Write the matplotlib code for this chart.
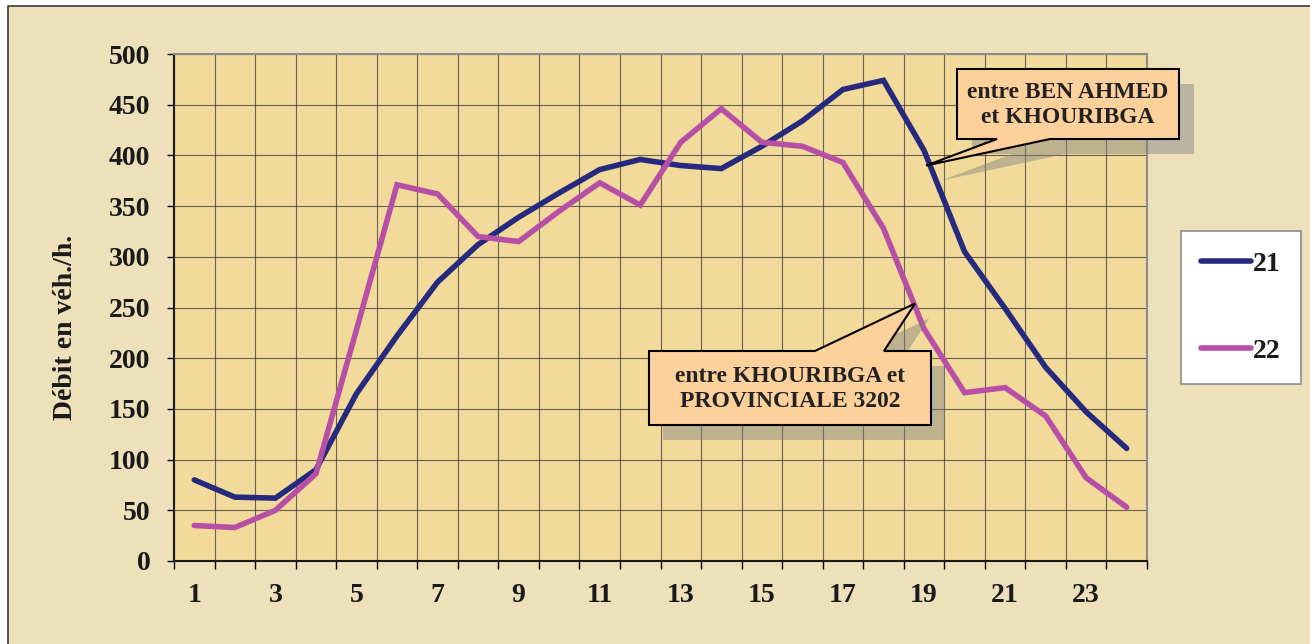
"""Hourly traffic flow, two road sections"""
import numpy as np
import matplotlib.pyplot as plt
from matplotlib.patches import Polygon, Rectangle
from matplotlib.lines import Line2D
from matplotlib.transforms import IdentityTransform

hours = list(range(1, 25))
flow_21 = [80, 63, 62, 90, 165, 222, 275, 312, 339, 363, 386, 396,
           390, 387, 409, 434, 465, 474, 405, 305, 249, 191, 147, 111]
flow_22 = [35, 33, 50, 86, 228, 371, 362, 320, 315, 345, 373, 351,
           413, 446, 413, 409, 393, 328, 229, 166, 171, 143, 82, 53]
series_names = ['21', '22']
callout_texts = ['entre BEN AHMED\net KHOURIBGA',
                 'entre KHOURIBGA et\nPROVINCIALE 3202']

W, H = 1310, 644
plt.rcParams['font.family'] = ['Liberation Serif', 'DejaVu Serif']
plt.rcParams['font.weight'] = 'bold'

fig = plt.figure(figsize=(W / 100, H / 100), dpi=100)
fig.patch.set_facecolor('#efe0bc')


def px(x, y):
    """pixel coords (top-left origin) -> display coords"""
    return (x, H - y)


ax = fig.add_axes([174 / W, (H - 561) / H, 973 / W, 507 / H])
ax.set_facecolor('#f2da9b')

navy = '#262a7e'
pink = '#b84fa6'
l1, = ax.plot(hours, flow_21, color=navy, linewidth=4, solid_capstyle='round',
              solid_joinstyle='miter', zorder=3, label=series_names[0])
l2, = ax.plot(hours, flow_22, color=pink, linewidth=4, solid_capstyle='round',
              solid_joinstyle='miter', zorder=3, label=series_names[1])

ax.set_xlim(0.5, 24.5)
ax.set_ylim(0, 500)
ax.set_xticks(np.arange(0.5, 25, 1))
ax.set_xticklabels([])
ax.set_xticks(hours[::2], minor=True)
ax.set_xticklabels([str(h) for h in hours[::2]], minor=True)
ax.set_yticks(np.arange(0, 501, 50))
ax.tick_params(axis='x', which='major', length=6, width=1, direction='out')
ax.tick_params(axis='x', which='minor', length=0, pad=16, labelsize=20)
ax.tick_params(axis='y', length=5, width=1, direction='out', pad=12, labelsize=20)
for lab in ax.get_xticklabels(minor=True) + ax.get_yticklabels():
    lab.set_fontweight('bold')
    lab.set_color('#1a1a1a')
ax.grid(True, which='major', color='#3a3a3a', linewidth=0.8, alpha=0.75)
ax.set_axisbelow(True)

for side in ['top', 'right']:
    ax.spines[side].set_color('#8c8c8c')
    ax.spines[side].set_linewidth(1.5)
for side in ['left', 'bottom']:
    ax.spines[side].set_color('#1a1a1a')
    ax.spines[side].set_linewidth(1.5)

fig.text(65 / W, 1 - 327 / H, 'Débit en véh./h.', rotation=90, ha='center',
         va='center', fontsize=20, fontweight='bold', color='#1a1a1a')


def callout(verts, tip_idx, tip_data, text, center, offset=(15, 15)):
    tip = ax.transData.transform(tip_data)
    pts = [px(*v) for v in verts]
    pts[tip_idx] = tuple(tip)
    shadow = [(x + offset[0], y - offset[1]) for x, y in pts]
    fig.patches.append(Polygon(shadow, closed=True, transform=IdentityTransform(),
                               facecolor='#7f7f7f', alpha=0.45, edgecolor='none',
                               zorder=4, figure=fig))
    fig.patches.append(Polygon(pts, closed=True, transform=IdentityTransform(),
                               facecolor='#fdd09c', edgecolor='black',
                               linewidth=1.5, zorder=5, figure=fig))
    cx, cy = px(*center)
    fig.text(cx / W, cy / H, text, ha='center', va='center', fontsize=17,
             fontweight='bold', color='#222222', linespacing=1.2, zorder=6)


# box over series 21
callout([(957, 69), (1179, 69), (1179, 139), (1050, 139), (0, 0), (997, 139), (957, 139)],
        4, (19.05, 390), callout_texts[0], (1068, 105))
# box under series 22
callout([(649, 351), (815, 351), (0, 0), (884, 351), (931, 351), (931, 425), (649, 425)],
        2, (18.78, 254), callout_texts[1], (790, 389), offset=(14, 15))

leg = fig.legend(handles=[l1, l2], loc='center',
                 bbox_to_anchor=(((1183 + 1299) / 2) / W, 1 - ((227 + 388) / 2) / H),
                 fontsize=20, frameon=True, fancybox=False, framealpha=1,
                 edgecolor='#8c8c8c', handlelength=1.8, handletextpad=0.05,
                 labelspacing=2.2, borderpad=0.75)
leg.get_frame().set_linewidth(1.2)
for t in leg.get_texts():
    t.set_fontweight('bold')
    t.set_color('#1a1a1a')

# white margin and thin outer border
fig.patches.append(Rectangle((0, 0), 8 / W, 1, transform=fig.transFigure,
                             facecolor='white', edgecolor='none', figure=fig))
fig.patches.append(Rectangle((0, 1 - 6 / H), 1, 6 / H, transform=fig.transFigure,
                             facecolor='white', edgecolor='none', figure=fig))
fig.lines.append(Line2D([8 / W, 8 / W, 1], [0, 1 - 6 / H, 1 - 6 / H],
                        transform=fig.transFigure, color='#3a3a3a', linewidth=1.2,
                        figure=fig))

fig.savefig('out.png', dpi=100)
